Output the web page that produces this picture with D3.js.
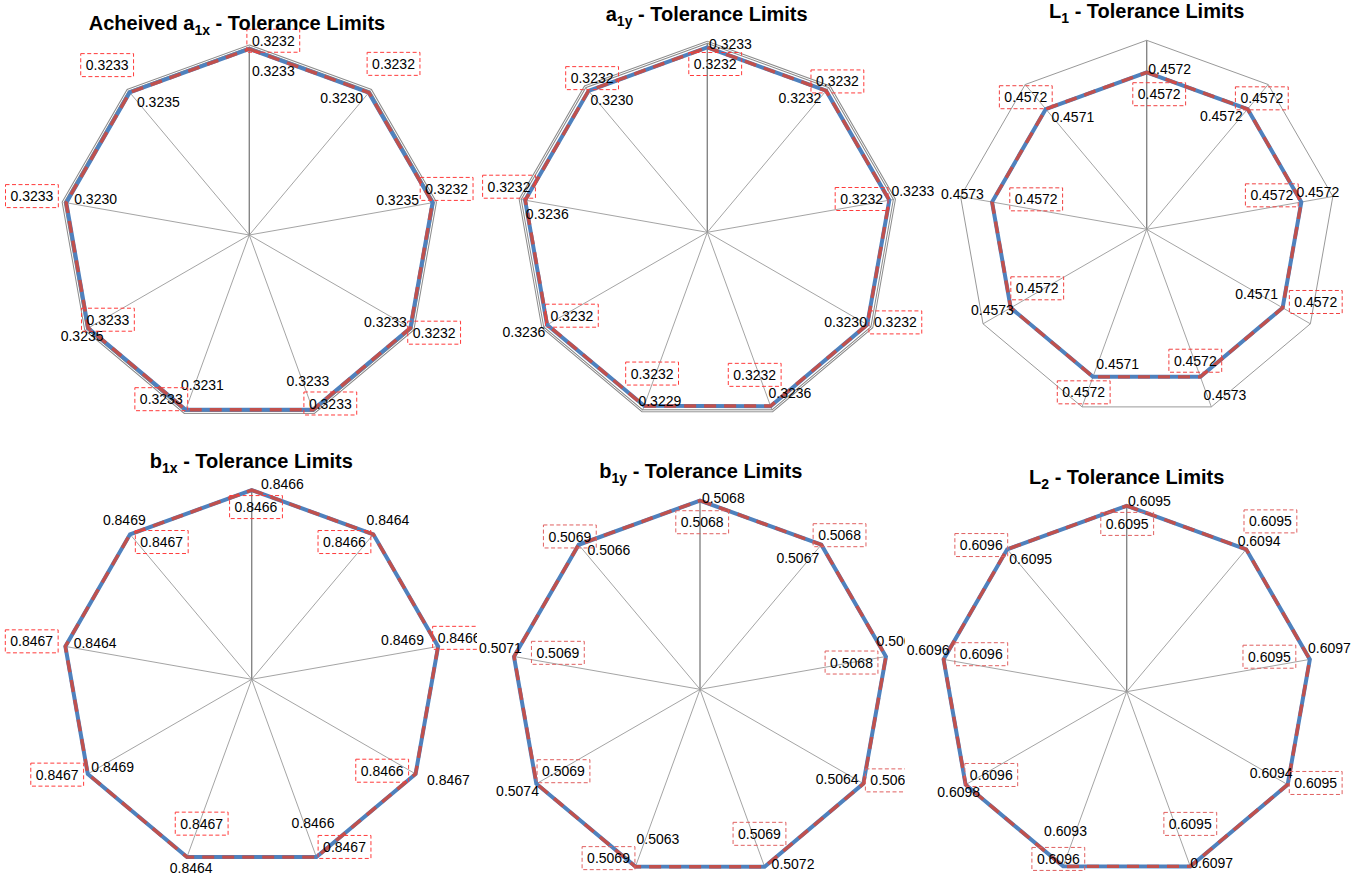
<!DOCTYPE html>
<html>
<head>
<meta charset="utf-8">
<script src="https://cdn.jsdelivr.net/npm/d3@7/dist/d3.min.js"></script>
<style>
  body { margin: 0; background: #ffffff; }
  svg { display: block; }
  text { font-family: "Liberation Sans", Arial, sans-serif; }
</style>
</head>
<body>
<svg id="chart" width="1368" height="877"></svg>
<script>
// Nine measurement positions around every radar
const positions = ["P1", "P2", "P3", "P4", "P5", "P6", "P7", "P8", "P9"];

// Chart titles: main text, subscript, trailing text
const titleMain = ["Acheived a", "a", "L", "b", "b", "L"];
const titleSub = ["1x", "1y", "1", "1x", "1y", "2"];
const titleTail = " - Tolerance Limits";

// Achieved values (plain labels)
const a1xAchieved = [0.3233, 0.3230, 0.3235, 0.3233, 0.3233, 0.3231, 0.3235, 0.3230, 0.3235];
const a1yAchieved = [0.3233, 0.3232, 0.3233, 0.3230, 0.3236, 0.3229, 0.3236, 0.3236, 0.3230];
const l1Achieved  = [0.4572, 0.4572, 0.4572, 0.4571, 0.4573, 0.4571, 0.4573, 0.4573, 0.4571];
const b1xAchieved = [0.8466, 0.8464, 0.8469, 0.8467, 0.8466, 0.8464, 0.8469, 0.8464, 0.8469];
const b1yAchieved = [0.5068, 0.5067, 0.5069, 0.5064, 0.5072, 0.5063, 0.5074, 0.5071, 0.5066];
const l2Achieved  = [0.6095, 0.6094, 0.6097, 0.6094, 0.6097, 0.6093, 0.6098, 0.6096, 0.6095];

// Tolerance limit values (boxed labels)
const a1xLimit = [0.3232, 0.3232, 0.3232, 0.3232, 0.3233, 0.3233, 0.3233, 0.3233, 0.3233];
const a1yLimit = [0.3232, 0.3232, 0.3232, 0.3232, 0.3232, 0.3232, 0.3232, 0.3232, 0.3232];
const l1Limit  = [0.4572, 0.4572, 0.4572, 0.4572, 0.4572, 0.4572, 0.4572, 0.4572, 0.4572];
const b1xLimit = [0.8466, 0.8466, 0.8466, 0.8466, 0.8467, 0.8467, 0.8467, 0.8467, 0.8467];
const b1yLimit = [0.5068, 0.5068, 0.5068, 0.5068, 0.5069, 0.5069, 0.5069, 0.5069, 0.5069];
const l2Limit  = [0.6095, 0.6095, 0.6095, 0.6095, 0.6095, 0.6096, 0.6096, 0.6096, 0.6096];

// Radial axis maximum of each radar
const axisMax = [0.3285, 0.3323, 0.5504, 0.8469, 0.5074, 0.6098];

const achievedSeries = [a1xAchieved, a1yAchieved, l1Achieved, b1xAchieved, b1yAchieved, l2Achieved];
const limitSeries = [a1xLimit, a1yLimit, l1Limit, b1xLimit, b1yLimit, l2Limit];

// ---- layout -------------------------------------------------------------
const panels = [
  { cx: 249.3,  cy: 235.0, R: 189.0, grid: "double", tx: 237.0,  ty: 30.0,  box: "#ff3b3b" },
  { cx: 707.3,  cy: 232.3, R: 190.0, grid: "double", tx: 706.7,  ty: 20.7,  box: "#ff3b3b" },
  { cx: 1146.7, cy: 229.3, R: 189.0, grid: "single", tx: 1146.7, ty: 18.3,  box: "#f04040" },
  { cx: 251.7,  cy: 679.3, R: 189.3, grid: "single", tx: 251.3,  ty: 468.3, box: "#ff3b3b", clipRight: 477 },
  { cx: 700.0,  cy: 689.3, R: 189.0, grid: "single", tx: 700.8,  ty: 478.3, box: "#e06060", clipRight: 905 },
  { cx: 1126.7, cy: 691.7, R: 186.0, grid: "single", tx: 1126.7, ty: 484.0, box: "#e06060" }
];

// label offsets (centre of label relative to its point)
const achievedOffsets = [
  [[24, 22], [-27, 5.6], [-35, -3], [-25, -6], [-5, -29], [16.7, -25], [-6, 7.7], [29.3, -4], [28.7, 9.3]],
  [[23.2, -3.3], [-26.2, 7.1], [23.5, -9.5], [-21.7, -3.1], [19.4, -12.8], [15.7, -5.1], [-23.1, 7.5], [22.2, 13.8], [23.3, 9.4]],
  [[23, -3.3], [-26.3, 7], [16.5, -9.7], [-26, -13.8], [24.6, 18.2], [24.7, -12.8], [-18.2, 2.2], [-29.6, -8], [27, 8.3]],
  [[30.8, -5.7], [14.6, -14.3], [-35.6, -6.4], [32.9, 6], [-3.4, -34.5], [4.2, 10.5], [24.9, -7.3], [29.7, -3.7], [-5.7, -14.3]],
  [[23.3, -3], [-23.5, 13.2], [12, -15.5], [-26.2, -4.8], [28.4, -2.6], [22.4, -27.9], [-18.8, 7.2], [-13.6, -8.2], [30.2, 5.5]],
  [[22.8, -4.7], [12.9, -8.2], [19.6, -11.1], [-16.5, -11.4], [21.4, -3.8], [2.4, -35.8], [-6.9, 7], [-15.5, -9.4], [23.4, 9.8]]
];
const limitOffsets = [
  [[24, -8.3], [24.7, -28.7], [14.2, -13.8], [23.8, 4.7], [17.4, -6.3], [-24.4, -10.6], [19.7, -8.3], [-34.2, -6.6], [-22.6, -27.4]],
  [[7.9, 16.5], [11.3, -9.3], [-27.7, -1.2], [28, -2.3], [-15.8, -31.1], [8, -32.4], [24.6, -9], [-16.3, -13.5], [3.6, -12.6]],
  [[12.5, 21.9], [14.2, -10.7], [-29.5, -6.7], [33.1, -5.8], [-5.1, -16.1], [-9.3, 15.5], [26.5, -19.5], [44.1, -2.7], [-20, -11.8]],
  [[4.3, 17], [-28.9, 7.7], [21, -8.6], [-33.4, -3.2], [28.1, -10.2], [14.7, -33.5], [-30.6, 0.7], [-33.6, -5.1], [31.7, 7.7]],
  [[2.2, 21.7], [18.2, -9.5], [-34.4, 6], [28.3, -3.3], [-5.1, -32.9], [-26.9, -8.6], [27, -12.5], [43.8, -3.7], [-8.8, -8.2]],
  [[0.5, 18.1], [24.2, -27.9], [-40.4, -2.7], [28, -1.7], [0, -42.5], [-4.8, -7.5], [25.6, -9.7], [37.7, -5.2], [-25.9, -4.2]]
];

const fmt = d3.format(".4f");
const labelSize = 14;
const svg = d3.select("#chart");
const defs = svg.append("defs");

panels.forEach((p, i) => {
  const g = svg.append("g");
  if (p.clipRight) {
    defs.append("clipPath").attr("id", `panel-clip-${i}`)
      .append("rect").attr("x", 0).attr("y", 0)
      .attr("width", p.clipRight).attr("height", 877);
  }

  const angle = d3.scaleLinear().domain([0, positions.length]).range([0, 2 * Math.PI]);
  const radius = d3.scaleLinear().domain([0, axisMax[i]]).range([0, p.R]);
  const point = (v, j) => [p.cx + radius(v) * Math.sin(angle(j)), p.cy - radius(v) * Math.cos(angle(j))];

  const radar = d3.lineRadial()
    .angle((d, j) => angle(j))
    .radius(d => radius(d))
    .curve(d3.curveLinearClosed);

  const plot = g.append("g").attr("transform", `translate(${p.cx},${p.cy})`);

  // spokes
  plot.selectAll("line.spoke").data(positions).join("line")
    .attr("class", "spoke")
    .attr("x1", 0).attr("y1", 0)
    .attr("x2", (d, j) => radius(axisMax[i]) * Math.sin(angle(j)))
    .attr("y2", (d, j) => -radius(axisMax[i]) * Math.cos(angle(j)))
    .attr("stroke", (d, j) => j === 0 ? "#868686" : "#9a9a9a")
    .attr("stroke-width", (d, j) => j === 0 ? 1.4 : 0.9);

  // outer gridline
  const ring = positions.map(() => axisMax[i]);
  if (p.grid === "double") {
    plot.append("path").attr("d", radar(ring)).attr("fill", "none")
      .attr("stroke", "#8c8c8c").attr("stroke-width", 3).attr("stroke-linejoin", "miter");
    plot.append("path").attr("d", radar(ring)).attr("fill", "none")
      .attr("stroke", "#ffffff").attr("stroke-width", 1).attr("stroke-linejoin", "miter");
  } else {
    plot.append("path").attr("d", radar(ring)).attr("fill", "none")
      .attr("stroke", "#999999").attr("stroke-width", 1);
  }

  // achieved series (solid blue) and tolerance limit (dashed red)
  plot.append("path").attr("d", radar(achievedSeries[i])).attr("fill", "none")
    .attr("stroke", "#4f81bd").attr("stroke-width", 4).attr("stroke-linejoin", "miter");
  plot.append("path").attr("d", radar(limitSeries[i])).attr("fill", "none")
    .attr("stroke", "#c0504d").attr("stroke-width", 3.4).attr("stroke-dasharray", "12,8")
    .attr("stroke-linejoin", "miter");

  // labels share the panel clip so overflow stops at the neighbouring chart
  const labels = g.append("g");
  if (p.clipRight) labels.attr("clip-path", `url(#panel-clip-${i})`);

  // plain labels of achieved values
  achievedSeries[i].forEach((v, j) => {
    const [x, y] = point(v, j);
    const [dx, dy] = achievedOffsets[i][j];
    labels.append("text")
      .attr("x", x + dx).attr("y", y + dy + labelSize * 0.36)
      .attr("text-anchor", "middle")
      .attr("font-size", labelSize).attr("fill", "#000")
      .text(fmt(v));
  });

  // boxed labels of tolerance limits
  limitSeries[i].forEach((v, j) => {
    const [x, y] = point(v, j);
    const [dx, dy] = limitOffsets[i][j];
    const t = labels.append("text")
      .attr("x", x + dx).attr("y", y + dy + labelSize * 0.36)
      .attr("text-anchor", "middle")
      .attr("font-size", labelSize).attr("fill", "#000")
      .text(fmt(v));
    const w = t.node().getComputedTextLength();
    labels.insert("rect", () => t.node())
      .attr("x", x + dx - w / 2 - 5).attr("y", y + dy - 11.5)
      .attr("width", w + 10).attr("height", 23)
      .attr("fill", "none").attr("stroke", p.box)
      .attr("stroke-width", 1).attr("stroke-dasharray", "4,2.5");
  });

  // title
  const title = g.append("text")
    .attr("x", p.tx).attr("y", p.ty)
    .attr("text-anchor", "middle")
    .attr("font-size", 20).attr("font-weight", "bold").attr("fill", "#000");
  title.append("tspan").text(titleMain[i]);
  title.append("tspan").attr("font-size", 14).attr("dy", 5).text(titleSub[i]);
  title.append("tspan").attr("dy", -5).text(titleTail);
});
</script>
</body>
</html>
